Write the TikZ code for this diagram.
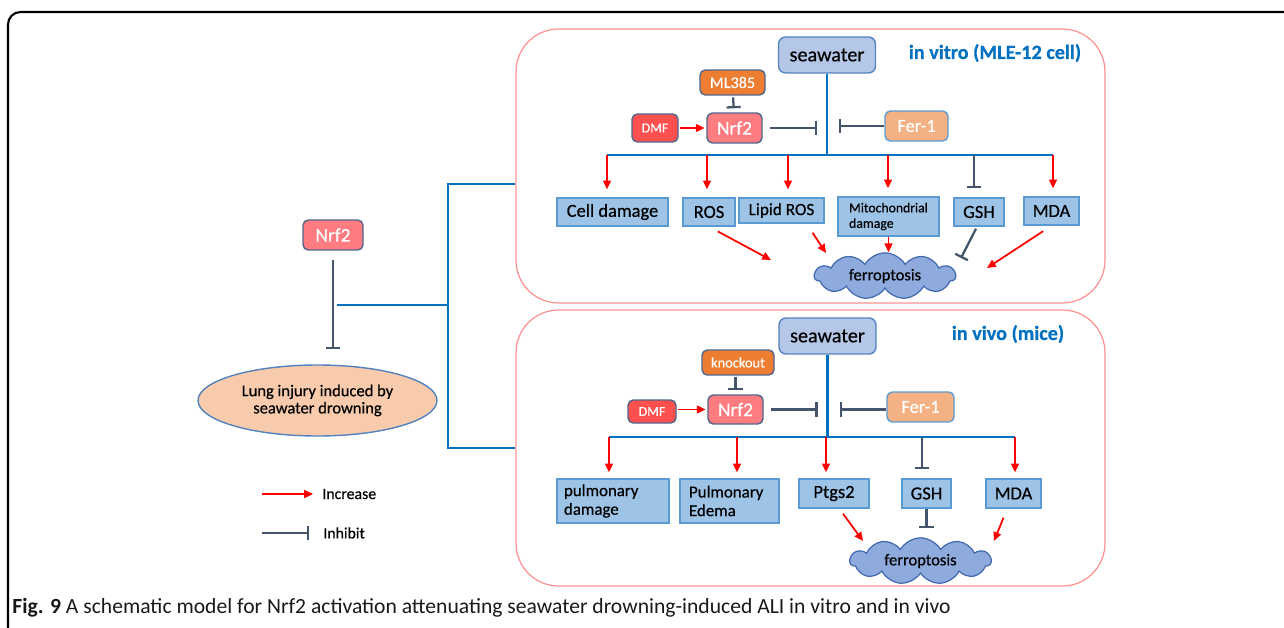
\documentclass[tikz,border=0pt]{standalone}
\usepackage{fontspec}
\setmainfont{Carlito}[FakeBold=0.5]
\newfontfamily\capfont{Carlito}
\usetikzlibrary{arrows.meta,shapes.symbols,shapes.geometric}

\definecolor{panelpink}{RGB}{255,145,145}
\definecolor{busblue}{RGB}{0,112,192}
\definecolor{incred}{RGB}{255,0,0}
\definecolor{inhgray}{RGB}{68,84,106}
\definecolor{itemfill}{RGB}{157,195,230}
\definecolor{itemline}{RGB}{91,155,213}
\definecolor{seafill}{RGB}{180,199,231}
\definecolor{seaedge}{RGB}{84,130,190}
\definecolor{cloudfill}{RGB}{143,170,220}
\definecolor{cloudedge}{RGB}{65,105,175}
\definecolor{nrffill}{RGB}{255,124,128}
\definecolor{dmffill}{RGB}{255,80,80}
\definecolor{blockfill}{RGB}{237,125,49}
\definecolor{ferfill}{RGB}{244,177,131}
\definecolor{lungfill}{RGB}{248,203,173}
\definecolor{drugedge}{RGB}{80,100,140}

\tikzset{
  panel/.style={draw=panelpink, line width=0.7pt, rounded corners=0.85cm,
    minimum width=11.78cm, inner sep=0},
  sea/.style={draw=seaedge, fill=seafill, line width=0.8pt, rounded corners=4pt,
    minimum width=1.94cm, minimum height=0.72cm, inner sep=0,
    font=\fontsize{11.5}{13}\selectfont},
  paneltitle/.style={text=busblue, inner sep=0, font=\bfseries\fontsize{11.5}{13}\selectfont},
  drug/.style={draw=drugedge, line width=0.8pt, rounded corners=3pt, text=white,
    inner sep=0},
  nrfbox/.style={drug, fill=nrffill, minimum width=1.1cm, minimum height=0.6cm,
    font=\fontsize{11}{12}\selectfont},
  dmfbox/.style={drug, fill=dmffill, minimum width=0.92cm, minimum height=0.5cm,
    font=\fontsize{7.8}{9}\selectfont},
  blockbox/.style={drug, fill=blockfill, minimum height=0.5cm},
  ferbox/.style={drug, draw=itemline, fill=ferfill, minimum height=0.6cm,
    font=\fontsize{10.5}{12}\selectfont},
  item/.style={draw=itemline, fill=itemfill, line width=0.8pt, inner sep=0,
    minimum height=0.56cm, font=\fontsize{10.5}{12}\selectfont},
  ferro/.style={cloud, cloud puffs=11, cloud puff arc=120, aspect=3.3,
    draw=cloudedge, fill=cloudfill, line width=0.7pt, inner sep=0,
    minimum width=2.82cm, minimum height=0.86cm, font=\fontsize{9.4}{11}\selectfont},
  legendtext/.style={anchor=west, inner sep=0, font=\fontsize{9}{11}\selectfont},
  bus/.style={draw=busblue, line width=1.3pt},
  inc/.style={draw=incred, line width=1pt, -{Triangle[length=5pt,width=4.5pt]}},
  inh/.style={draw=inhgray, line width=1.3pt, -{Bar[width=8pt]}}
}

\begin{document}
\begin{tikzpicture}[x=0.02cm, y=-0.02cm]
    \useasboundingbox (0,0) rectangle (1284,628);

    % Frame
    \draw[line width=1.2pt, rounded corners=0.25cm] (8,640) -- (8,12) -- (1300,12);

    % Panels
    \node[panel, minimum height=5.48cm] (panelA) at (810.5,166) {};
    \node[panel, minimum height=5.52cm] (panelB) at (810.5,448) {};

    % Nrf2 -| lung injury
    \node[nrfbox, minimum width=1.2cm] (nrfL) at (333,235) {Nrf2};
    \node[ellipse, draw=seaedge, fill=lungfill, line width=0.8pt, inner sep=0,
      minimum width=4.78cm, minimum height=1.42cm, align=center,
      font=\fontsize{9.4}{9.8}\selectfont] (lungL) at (317.5,400.5)
      {Lung injury induced by\\seawater drowning};
    \draw[inh, shorten <=0.18cm, shorten >=0.3cm] (nrfL.south) -- (nrfL.south |- lungL.north);

    % Bracket to the panels
    \coordinate (brkL) at (337,305);
    \coordinate (brkM) at (448,305);
    \draw[bus] (brkL) -- (brkM);
    \draw[bus] ([yshift=-0.36cm]panelA.west) -| (brkM) |- (panelB.west);

    % ---------- in vitro ----------
    \node[sea] (seaA) at (827,55) {seawater};
    \node[paneltitle] (titleA) at (995,53) {in vitro (MLE-12 cell)};
    \node[blockbox, minimum width=1.3cm, font=\fontsize{9.2}{11}\selectfont] (mlA) at (732.5,82.5) {ML385};
    \node[nrfbox] (nrfA) at (734.5,128) {Nrf2};
    \node[dmfbox, minimum height=0.56cm] (dmfA) at (655,128) {DMF};
    \node[ferbox, minimum width=1.26cm] (ferA) at (916.5,126) {Fer-1};

    \draw[inc, shorten <=1pt, shorten >=1pt] (dmfA) -- (nrfA);
    \draw[inh, shorten <=1pt, shorten >=0.08cm] (mlA) -- (nrfA);
    \draw[inh, shorten <=0.14cm, shorten >=0.2cm] (nrfA) -- (nrfA -| seaA.south);
    \draw[inh, shorten >=0.24cm] (ferA) -- (ferA -| seaA.south);

    % Bus
    \coordinate (dA1) at (607,155);
    \coordinate (dA2) at (707,155);
    \coordinate (dA3) at (788,155);
    \coordinate (dA4) at (888,155);
    \coordinate (dA5) at (974,155);
    \coordinate (dA6) at (1053,155);
    \draw[bus] (seaA) -- (seaA.south |- dA1);
    \draw[bus] (dA1) -- (dA6);

    % Effects
    \node[item, minimum width=2.22cm] (cdA) at (612.5,212) {Cell damage};
    \node[item, minimum width=1.04cm] (rosA) at (709,212) {ROS};
    \node[item, minimum width=1.7cm, minimum height=0.5cm, font=\fontsize{9.8}{11}\selectfont] (lipA) at (781.5,210.5) {Lipid ROS};
    \node[item, minimum width=2.02cm, minimum height=0.78cm, align=left,
      font=\fontsize{7.8}{8.8}\selectfont] (mitA) at (888.5,216.5) {Mitochondrial\\damage};
    \node[item, minimum width=1.0cm] (gshA) at (979,212) {GSH};
    \node[item, minimum width=1.1cm] (mdaA) at (1051.5,211) {MDA};

    \draw[inc, shorten >=0.16cm] (dA1) -- (dA1 |- cdA.north);
    \draw[inc, shorten >=0.16cm] (dA2) -- (dA2 |- rosA.north);
    \draw[inc, shorten >=0.16cm] (dA3) -- (dA3 |- lipA.north);
    \draw[inc, shorten >=0.16cm] (dA4) -- (dA4 |- mitA.north);
    \draw[inh, shorten >=0.18cm] (dA5) -- (dA5 |- gshA.north);
    \draw[inc, shorten >=0.16cm] (dA6) -- (dA6 |- mdaA.north);

    % Ferroptosis
    \node[ferro] (ferrA) at (885,276) {ferroptosis};
    \coordinate (fA1) at (771,260);
    \coordinate (fA2) at (826,253);
    \coordinate (fA3) at (961,258);
    \coordinate (fA4) at (987,268);
    \draw[inc, shorten <=0.2cm] (rosA.south) -- (fA1);
    \draw[inc] ([xshift=0.62cm,yshift=-0.18cm]lipA.south) -- (fA2);
    \draw[inc] (mitA) -- (mitA.south |- ferrA.north);
    \draw[inh] ([xshift=-0.06cm,yshift=-0.04cm]gshA.south) -- (fA3);
    \draw[inc, shorten <=0.2cm] (mdaA.south) -- (fA4);

    % ---------- in vivo ----------
    \node[sea] (seaB) at (827.5,336) {seawater};
    \node[paneltitle] (titleB) at (1008,334) {in vivo (mice)};
    \node[blockbox, minimum width=1.44cm, font=\fontsize{8.2}{10}\selectfont] (koB) at (738,362.5) {knockout};
    \node[nrfbox, minimum height=0.58cm] (nrfB) at (735.5,409.5) {Nrf2};
    \node[dmfbox, minimum width=0.96cm, minimum height=0.46cm] (dmfB) at (652,411.5) {DMF};
    \node[ferbox, minimum width=1.34cm] (ferB) at (920.5,407) {Fer-1};

    \draw[inc, shorten <=1pt, shorten >=1pt] (dmfB.east |- nrfB) -- (nrfB);
    \draw[inh, shorten <=1pt, shorten >=0.08cm] (koB.south -| nrfB) -- (nrfB);
    \draw[inh, shorten <=0.14cm, shorten >=0.2cm] (nrfB) -- (nrfB -| seaB.south);
    \draw[inh, shorten >=0.24cm] (ferB.west |- nrfB) -- (nrfB -| seaB.south);

    % Bus
    \coordinate (dB1) at (609,437);
    \coordinate (dB2) at (737,437);
    \coordinate (dB3) at (826,437);
    \coordinate (dB4) at (922,437);
    \coordinate (dB5) at (1015,437);
    \draw[bus] (seaB) -- (seaB.south |- dB1);
    \draw[bus] (dB1) -- (dB5);

    % Effects
    \node[item, minimum width=2.24cm, minimum height=0.88cm, text width=1.96cm, align=left,
      font=\fontsize{9.6}{10.6}\selectfont] (pdB) at (613,501) {pulmonary\\damage};
    \node[item, minimum width=1.98cm, minimum height=0.88cm, text width=1.62cm, align=left,
      font=\fontsize{9.6}{10.6}\selectfont] (peB) at (729.5,501) {Pulmonary\\Edema};
    \node[item, minimum width=1.4cm, minimum height=0.58cm] (ptB) at (834,493.5) {Ptgs2};
    \node[item, minimum width=0.98cm, minimum height=0.58cm] (gshB) at (926.5,493.5) {GSH};
    \node[item, minimum width=1.1cm, minimum height=0.58cm] (mdaB) at (1013.5,493.5) {MDA};

    \draw[inc, shorten >=0.12cm] (dB1) -- (dB1 |- pdB.north);
    \draw[inc, shorten >=0.12cm] (dB2) -- (dB2 |- peB.north);
    \draw[inc, shorten >=0.12cm] (dB3) -- (dB3 |- ptB.north);
    \draw[inh, shorten >=0.18cm] (dB4) -- (dB4 |- gshB.north);
    \draw[inc, shorten >=0.12cm] (dB5) -- (dB5 |- mdaB.north);

    % Ferroptosis
    \node[ferro, minimum height=0.92cm] (ferrB) at (920.5,561) {ferroptosis};
    \coordinate (fB1) at (863,541);
    \coordinate (fB2) at (994,541);
    \draw[inc] ([xshift=0.18cm,yshift=-0.1cm]ptB.south) -- (fB1);
    \draw[inh, shorten >=0.18cm] (gshB) -- (gshB.south |- ferrB.north);
    \draw[inc] ([xshift=-0.2cm,yshift=-0.18cm]mdaB.south) -- (fB2);

    % Legend
    \node[legendtext] (incT) at (322,494) {Increase};
    \node[legendtext] (inhT) at (323,533) {Inhibit};
    \coordinate (legI) at (262,494);
    \coordinate (legH) at (262,533);
    \draw[inc, shorten >=0.18cm] (legI) -- (incT.west);
    \draw[inh, shorten >=0.28cm] (legH) -- (inhT.west);

    % Caption
    \node[anchor=west, inner sep=0, text=black!90, font=\capfont\fontsize{12.3}{14}\selectfont] (caption) at (12,608)
      {\textbf{Fig. 9} A schematic model for Nrf2 activation attenuating seawater drowning-induced ALI in vitro and in vivo};

\end{tikzpicture}
\end{document}
